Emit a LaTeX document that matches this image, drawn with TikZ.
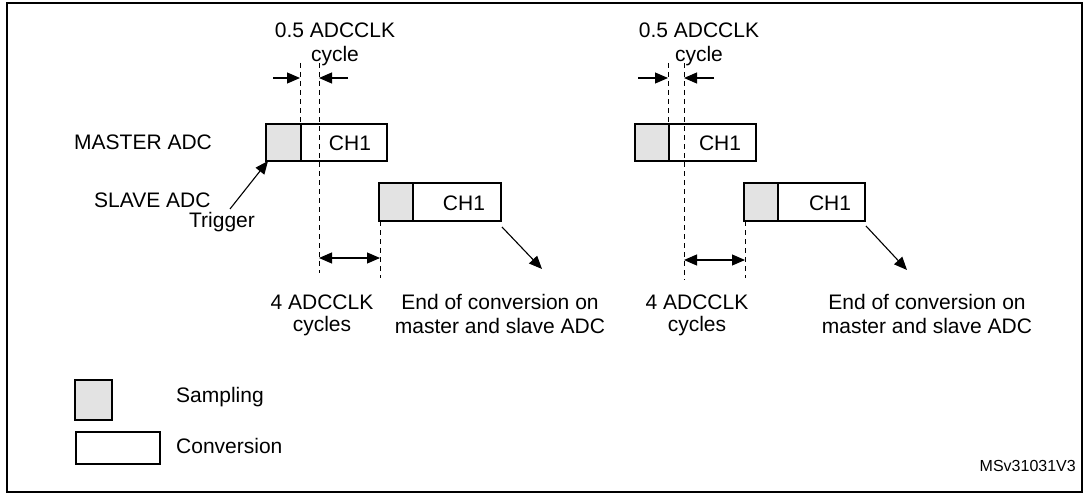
\documentclass[tikz,border=0pt]{standalone}
\usepackage{fontspec}
\setmainfont{Liberation Sans}
\usetikzlibrary{arrows.meta}
\begin{document}
\begin{tikzpicture}[x=1pt,y=-1pt,
  samp/.style={draw,line width=1.3pt,fill=gray!22},
  conv/.style={draw,line width=1.3pt,fill=white},
  dsh/.style={dash pattern=on 5pt off 4pt,line width=0.7pt},
  arr/.style={-{Triangle[length=13pt,width=11pt]},line width=1.1pt},
  darr/.style={{Triangle[length=13pt,width=11pt]}-{Triangle[length=13pt,width=11pt]},line width=1.1pt},
  lbl/.style={font=\fontsize{21}{25}\selectfont,inner sep=0pt}]
\useasboundingbox (0,0) rectangle (1085,495);
\draw[line width=1.5pt] (7,3) rectangle (1082,492);
% legend
\node[samp,minimum width=37pt,minimum height=40pt,inner sep=0pt] (ls) at (93.5,400) {};
\node[conv,minimum width=84pt,minimum height=32pt,inner sep=0pt] (lc) at (118,448) {};
\node[lbl,anchor=west] at (176,397) {Sampling};
\node[lbl,anchor=west] at (176,446) {Conversion};
\node[font=\fontsize{16}{20}\selectfont,anchor=east,inner sep=0pt] at (1076,466) {MSv31031V3};
\node[lbl,anchor=west] (master) at (74,142) {MASTER ADC};
\node[lbl,anchor=west] (slave) at (94,200) {SLAVE ADC};
\node[lbl] (trig) at (222,222) {Trigger};
\coordinate (tstart) at (230,209);
% diagram 1
\draw[conv] (301,124) rectangle (387,161);
\draw[samp] (266,124) rectangle (301,161);
\node[lbl] at (350,143) {CH1};
\draw[conv] (413,183) rectangle (501,221);
\draw[samp] (379,183) rectangle (413,221);
\node[lbl] at (464,203) {CH1};
\coordinate (da1) at (300,63); \coordinate (db1) at (300,124);
\coordinate (dc1) at (319,63); \coordinate (dd1) at (319,273);
\coordinate (de1) at (380,221); \coordinate (df1) at (380,278);
\draw[dsh] (da1) -- (db1); \draw[dsh] (dc1) -- (dd1); \draw[dsh] (de1) -- (df1);
\coordinate (h1) at (273,78); \coordinate (h1e) at (300,78);
\coordinate (h2) at (348,78); \coordinate (h2e) at (319,78);
\draw[arr] (h1) -- (h1e); \draw[arr] (h2) -- (h2e);
\coordinate (g1) at (319,258); \coordinate (g2) at (380,258);
\draw[darr] (g1) -- (g2);
\coordinate (tend) at (268,161);
\draw[arr] (tstart) -- (tend);
\coordinate (e1s) at (502,227); \coordinate (e1e) at (542,269);
\draw[arr] (e1s) -- (e1e);
\node[lbl] at (335,30) {0.5 ADCCLK};
\node[lbl] at (335,56) {cycle};
\node[lbl] at (322,302) {4 ADCCLK};
\node[lbl] at (322,326) {cycles};
\node[lbl] at (500,302) {End of conversion on};
\node[lbl] at (500,326) {master and slave ADC};
% diagram 2
\draw[conv] (669,124) rectangle (756,161);
\draw[samp] (635,124) rectangle (669,161);
\node[lbl] at (720,143) {CH1};
\draw[conv] (778,183) rectangle (865,221);
\draw[samp] (744,183) rectangle (778,221);
\node[lbl] at (830,203) {CH1};
\coordinate (da2) at (668,63); \coordinate (db2) at (668,124);
\coordinate (dc2) at (684,63); \coordinate (dd2) at (684,280);
\coordinate (de2) at (745,221); \coordinate (df2) at (745,278);
\draw[dsh] (da2) -- (db2); \draw[dsh] (dc2) -- (dd2); \draw[dsh] (de2) -- (df2);
\coordinate (k1) at (638,78); \coordinate (k1e) at (668,78);
\coordinate (k2) at (714,78); \coordinate (k2e) at (684,78);
\draw[arr] (k1) -- (k1e); \draw[arr] (k2) -- (k2e);
\coordinate (m1) at (684,260); \coordinate (m2) at (745,260);
\draw[darr] (m1) -- (m2);
\coordinate (e2s) at (866,226); \coordinate (e2e) at (907,270);
\draw[arr] (e2s) -- (e2e);
\node[lbl] at (699,30) {0.5 ADCCLK};
\node[lbl] at (699,56) {cycle};
\node[lbl] at (697,302) {4 ADCCLK};
\node[lbl] at (697,326) {cycles};
\node[lbl] at (927,302) {End of conversion on};
\node[lbl] at (927,326) {master and slave ADC};
\end{tikzpicture}
\end{document}
